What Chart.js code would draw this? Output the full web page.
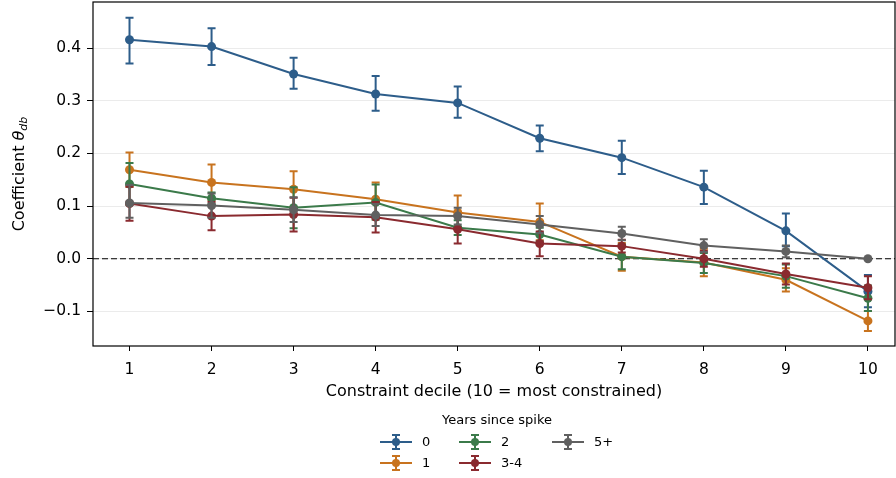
<!DOCTYPE html>
<html><head><meta charset="utf-8">
<script src="https://cdn.jsdelivr.net/npm/chart.js@4"></script>
<style>html,body{margin:0;padding:0;background:#fff}#wrap{width:896px;height:478px;position:relative}</style>
</head><body><div id="wrap"><canvas id="c" width="896" height="478"></canvas></div>
<script>
const deciles = [1,2,3,4,5,6,7,8,9,10];
const seriesNames = ['0','1','2','3-4','5+'];
const yTickValues = [-0.1,0,0.1,0.2,0.3,0.4];

const s0 = [0.416,0.403,0.351,0.313,0.296,0.229,0.192,0.136,0.053,-0.062];
const s0lo = [0.371,0.368,0.323,0.281,0.268,0.204,0.161,0.104,0.024,-0.092];
const s0hi = [0.458,0.438,0.382,0.347,0.327,0.253,0.224,0.167,0.086,-0.031];

const s1 = [0.169,0.145,0.132,0.113,0.088,0.070,0.004,-0.007,-0.040,-0.118];
const s1lo = [0.137,0.111,0.099,0.083,0.057,0.035,-0.023,-0.033,-0.062,-0.137];
const s1hi = [0.202,0.179,0.166,0.145,0.120,0.105,0.030,0.019,-0.018,-0.099];

const s2 = [0.142,0.115,0.097,0.107,0.059,0.046,0.004,-0.008,-0.033,-0.075];
const s2lo = [0.102,0.104,0.058,0.074,0.045,0.033,-0.020,-0.027,-0.055,-0.099];
const s2hi = [0.182,0.126,0.136,0.141,0.073,0.059,0.027,0.011,-0.011,-0.051];

const s3 = [0.105,0.081,0.084,0.079,0.056,0.029,0.024,0.000,-0.029,-0.055];
const s3lo = [0.072,0.054,0.052,0.050,0.029,0.005,0.012,-0.015,-0.049,-0.077];
const s3hi = [0.137,0.108,0.116,0.108,0.083,0.052,0.036,0.015,-0.009,-0.033];

const s4 = [0.106,0.101,0.093,0.083,0.081,0.065,0.048,0.025,0.014,0.000];
const s4lo = [0.078,0.078,0.070,0.062,0.065,0.049,0.035,0.013,0.003,0.000];
const s4hi = [0.140,0.124,0.117,0.104,0.097,0.081,0.061,0.037,0.025,0.000];

const colors = ['#2d5d8a','#c8731e','#3b7a4a','#8a2a2f','#606060'];
const vals = [s0,s1,s2,s3,s4], lows=[s0lo,s1lo,s2lo,s3lo,s4lo], highs=[s0hi,s1hi,s2hi,s3hi,s4hi];

const FONT = "'DejaVu Sans', sans-serif";

const datasets = vals.map((v,i)=>({
  label: seriesNames[i],
  data: deciles.map((d,j)=>({x:d,y:v[j]})),
  borderColor: colors[i], backgroundColor: colors[i],
  borderWidth: 2, pointRadius: 4.5, pointHoverRadius: 4.5,
  pointBorderWidth: 0, tension: 0, order: 4-i
}));

const errPlugin = {
  id:'err',
  beforeDatasetDraw(chart, args){
    const i = args.index, x = chart.scales.x, y = chart.scales.y, ctx = chart.ctx;
    ctx.save();
    ctx.strokeStyle = colors[i]; ctx.lineWidth = 2;
    deciles.forEach((d,j)=>{
      const px = x.getPixelForValue(d);
      const a = y.getPixelForValue(lows[i][j]), b = y.getPixelForValue(highs[i][j]);
      ctx.beginPath();
      ctx.moveTo(px,a); ctx.lineTo(px,b);
      ctx.moveTo(px-4,a); ctx.lineTo(px+4,a);
      ctx.moveTo(px-4,b); ctx.lineTo(px+4,b);
      ctx.stroke();
    });
    ctx.restore();
  },
  beforeDatasetsDraw(chart){
    const ctx = chart.ctx, y = chart.scales.y, a = chart.chartArea;
    const py = y.getPixelForValue(0);
    ctx.save();
    ctx.strokeStyle = '#000'; ctx.lineWidth = 1.2; ctx.setLineDash([6,3]);
    ctx.beginPath(); ctx.moveTo(a.left,py); ctx.lineTo(a.right,py); ctx.stroke();
    ctx.restore();
  },
  afterDraw(chart){
    const ctx = chart.ctx, a = chart.chartArea;
    ctx.save();
    ctx.strokeStyle = '#000'; ctx.lineWidth = 1.2;
    ctx.strokeRect(a.left, a.top, a.right-a.left, a.bottom-a.top);
    // y title
    ctx.translate(18, (a.top+a.bottom)/2);
    ctx.rotate(-Math.PI/2);
    ctx.fillStyle = '#000';
    ctx.textBaseline = 'alphabetic';
    const f1 = '16px '+FONT, f2 = 'italic 16px '+FONT, f3 = 'italic 11px '+FONT;
    ctx.font = f1; const w1 = ctx.measureText('Coefficient ').width;
    ctx.font = f2; const w2 = ctx.measureText('θ').width;
    ctx.font = f3; const w3 = ctx.measureText('db').width;
    let sx = -(w1+w2+w3)/2;
    ctx.font = f1; ctx.fillText('Coefficient ', sx, 6); sx += w1;
    ctx.font = f2; ctx.fillText('θ', sx, 6); sx += w2;
    ctx.font = f3; ctx.fillText('db', sx, 9);
    ctx.restore();
    // legend
    ctx.save();
    ctx.fillStyle = '#000';
    ctx.font = '13px '+FONT; ctx.textAlign='center'; ctx.textBaseline='middle';
    ctx.fillText('Years since spike', 497, 421);
    const pos = [[380,442],[380,463],[459,442],[459,463],[552,442]];
    ctx.textAlign='left';
    pos.forEach((p,i)=>{
      const [lx,ly] = p, cx = lx+16;
      ctx.strokeStyle = colors[i]; ctx.fillStyle = colors[i]; ctx.lineWidth = 2;
      ctx.beginPath();
      ctx.moveTo(lx,ly); ctx.lineTo(lx+32,ly);
      ctx.moveTo(cx,ly-7); ctx.lineTo(cx,ly+7);
      ctx.moveTo(cx-4,ly-7); ctx.lineTo(cx+4,ly-7);
      ctx.moveTo(cx-4,ly+7); ctx.lineTo(cx+4,ly+7);
      ctx.stroke();
      ctx.beginPath(); ctx.arc(cx,ly,4,0,Math.PI*2); ctx.fill();
      ctx.fillStyle = '#000';
      ctx.fillText(seriesNames[i], lx+42, ly+1);
    });
    ctx.restore();
  }
};

new Chart(document.getElementById('c'), {
  type:'line',
  data:{datasets},
  plugins:[errPlugin],
  options:{
    responsive:false, animation:false,
    layout:{autoPadding:false, padding:{left:0,right:1,top:2,bottom:72}},
    plugins:{legend:{display:false}, tooltip:{enabled:false}},
    scales:{
      x:{type:'linear', min:0.555, max:10.33,
        afterBuildTicks(s){ s.ticks = deciles.map(v=>({value:v})); },
        afterFit(s){ s.height = 60; s.paddingLeft = 0; s.paddingRight = 0; },
        grid:{drawOnChartArea:false, drawTicks:true, tickLength:5, tickColor:'#000'},
        border:{display:false},
        ticks:{color:'#000', font:{family:FONT,size:15.5}, padding:10, maxRotation:0,
          callback:(v)=>String(v)},
        title:{display:true, text:'Constraint decile (10 = most constrained)', color:'#000',
          font:{family:FONT,size:16}, padding:{top:2,bottom:5}}
      },
      y:{type:'linear', min:-0.1657, max:0.4877,
        afterBuildTicks(s){ s.ticks = yTickValues.map(v=>({value:v})); },
        afterFit(s){ s.width = 93; s.paddingTop = 0; s.paddingBottom = 0; },
        grid:{color:'#ebebeb', lineWidth:1, drawTicks:true, tickLength:6, tickColor:'#000'},
        border:{display:false},
        ticks:{color:'#000', font:{family:FONT,size:15.5}, padding:6,
          callback:(v)=> (v<0?'\u2212':'')+Math.abs(v).toFixed(1)}
      }
    }
  }
});
</script></body></html>
